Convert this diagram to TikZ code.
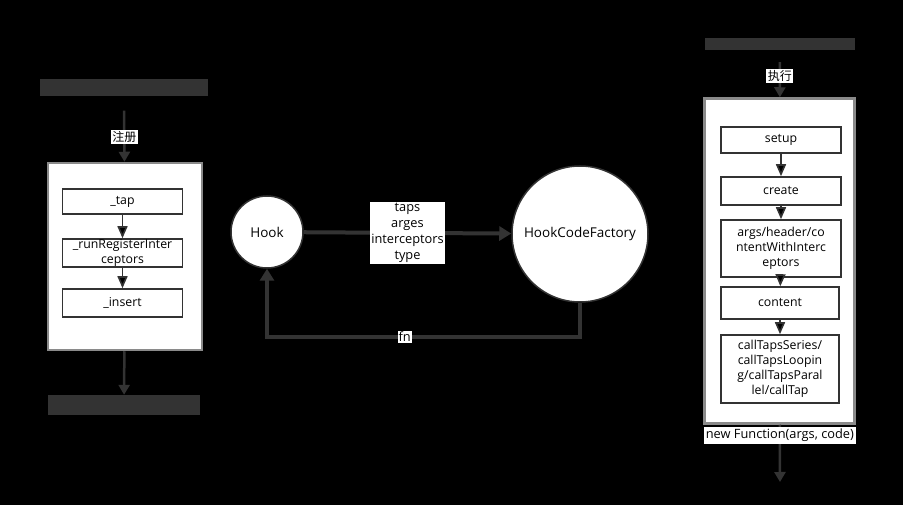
\documentclass[tikz,border=0pt]{standalone}
\usepackage{fontspec}
\setmainfont{Open Sans}
\newfontfamily\cjk{Noto Sans CJK SC}
\usetikzlibrary{arrows.meta}

\definecolor{linegray}{HTML}{333333}
\definecolor{blobgray}{HTML}{333333}
\definecolor{framegray}{HTML}{8A8A8A}

\begin{document}
\begin{tikzpicture}[x=1pt,y=-1pt,
  box/.style={draw=linegray,line width=1.6pt,fill=white,minimum width=120pt,inner sep=0pt,align=center,font=\fontsize{12.3}{15}\selectfont},
  frame/.style={draw=framegray,line width=2.5pt,fill=white},
  blob/.style={fill=blobgray,inner sep=0pt},
  ball/.style={shape=circle,draw=linegray,line width=1.5pt,fill=white,inner sep=0pt,font=\fontsize{13.5}{15}\selectfont},
  wire/.style={draw=linegray,line width=4pt,-{Triangle[width=14pt,length=12pt]}},
  feed/.style={draw=linegray,line width=2.5pt,-{Triangle[width=11pt,length=10pt]}},
  flow/.style={draw=linegray,line width=1.6pt,-{Triangle[width=10pt,length=12pt]}},
  tag/.style={fill=white,inner sep=1.5pt,align=center,font=\fontsize{12.8}{16}\selectfont}
]
\fill[black] (0,0) rectangle (903,505);
\useasboundingbox (0,0) rectangle (903,505);

% left: register
\node(topL) at (124,88)[blob,minimum width=168pt,minimum height=17pt]{};
\node(frameL) at (125,256.5)[frame,minimum width=154pt,minimum height=187pt]{};
\node(botL) at (124,405)[blob,minimum width=152pt,minimum height=20pt]{};
\node(tap) at (122.5,201.5)[box,minimum height=25pt]{\_tap};
\node(run) at (122.5,253)[box,minimum height=28pt]{\_runRegisterInter\\ceptors};
\node(ins) at (122.5,303)[box,minimum height=28pt]{\_insert};
\path[flow]
  (tap)    edge   (run)
  (run)    edge   (ins);
\draw[feed,shorten <=14pt] (topL) -- node[tag,pos=0.62,font=\cjk\fontsize{12}{14}\selectfont]{注册} (frameL);
\draw[feed] (frameL) -- (botL);

% middle
\node(hook) at (267,232)[ball,minimum size=72pt]{Hook};
\node(hcf) at (580,234)[ball,minimum size=136pt]{HookCodeFactory};
\draw[wire] (hook) -- node[tag]{taps\\arges\\interceptors\\type} (hcf);
\draw[wire] (hcf.south) -- ++(0,34) -| node[tag,pos=0.28,inner sep=1pt]{fn} (hook.south);

% right: call
\node(topR) at (780,44)[blob,minimum width=150pt,minimum height=12pt]{};
\node(frameR) at (779.5,261)[frame,minimum width=150pt,minimum height=325pt]{};
\node(setup) at (781,140)[box,minimum height=26pt]{setup};
\node(create) at (781,191)[box,minimum height=28pt]{create};
\node(args) at (781,248.5)[box,minimum height=57pt]{args/header/co\\ntentWithInterc\\eptors};
\node(content) at (780,303)[box,minimum width=118pt,minimum height=32pt]{content};
\node(calls) at (780,369)[box,minimum width=118pt,minimum height=68pt]{callTapsSeries/\\callTapsLoopin\\g/callTapsParal\\lel/callTap};
\coordinate(endR) at (780,482);
\path[flow]
  (setup)   edge   (create)
  (create)  edge   (args)
  (args)    edge   (content)
  (content) edge   (calls);
\draw[feed,shorten <=12pt] (topR) -- node[tag,pos=0.55,font=\cjk\fontsize{12}{14}\selectfont]{执行} (frameR);
\draw[feed] (frameR) -- node[tag,pos=0.19,inner sep=2pt]{new Function(args, code)} (endR);

\end{tikzpicture}
\end{document}
